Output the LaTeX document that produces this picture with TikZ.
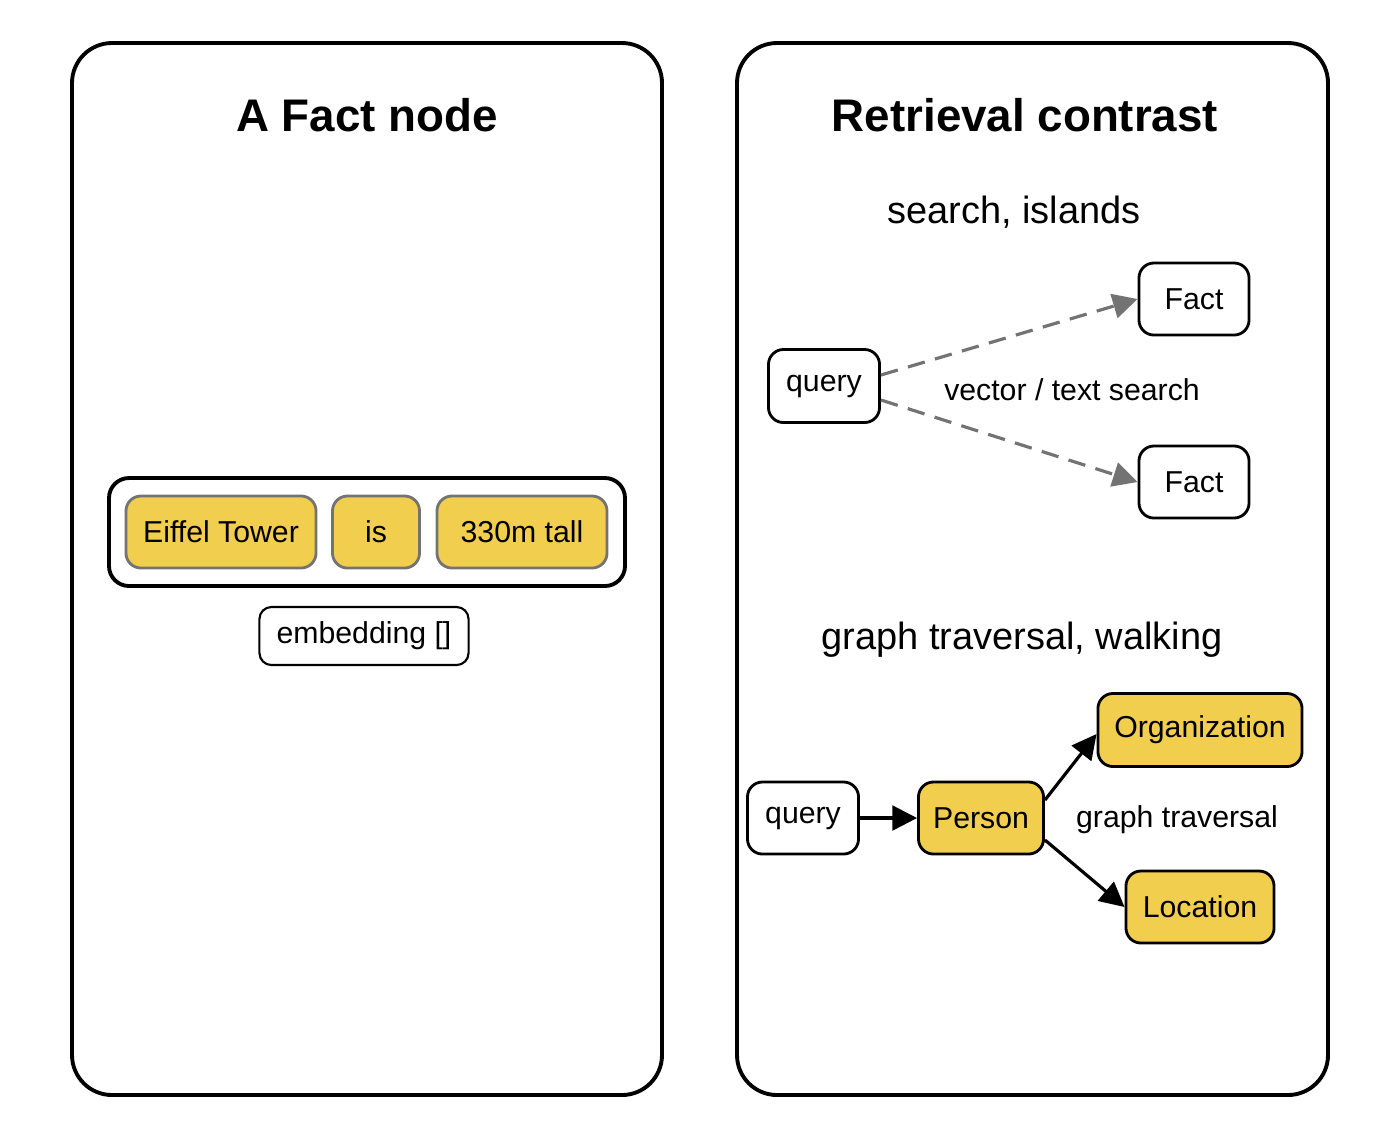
\documentclass[tikz,border=0pt]{standalone}
\usepackage{fontspec}
\setmainfont{Liberation Sans}
\usetikzlibrary{arrows.meta}
\definecolor{yel}{HTML}{F2CE4E}
\begin{document}
\begin{tikzpicture}[x=0.01cm,y=-0.01cm,
 panel/.style={draw,line width=1.1pt,rounded corners=0.4cm},
 title/.style={font=\fontsize{13pt}{15pt}\selectfont\bfseries},
 sub/.style={font=\fontsize{10.8pt}{13pt}\selectfont},
 txt/.style={font=\fontsize{8.6pt}{10pt}\selectfont},
 box/.style={draw,line width=0.8pt,rounded corners=0.15cm,fill=white,txt,inner sep=0pt,minimum height=0.72cm},
 ybox/.style={box,fill=yel},
 gbox/.style={ybox,draw=black!55},
 darr/.style={draw=black!55,line width=0.9pt,dash pattern=on 5pt off 3pt,-{Triangle[length=7pt,width=7pt]}},
 sarr/.style={line width=0.9pt,-{Triangle[length=7pt,width=7pt]}}]
\useasboundingbox (0,0) rectangle (1400,1138);
\draw[panel] (72,43) rectangle (662,1095);
\draw[panel] (737,43) rectangle (1328,1095);
\node[title] (t1) at (367,115) {A Fact node};
\node[title] (t2) at (1025,115) {Retrieval contrast};
\draw[line width=1.1pt,rounded corners=0.2cm] (109,478) rectangle (625,586);
\node[gbox,minimum width=1.9cm] (e) at (221,532) {Eiffel Tower};
\node[gbox,minimum width=0.87cm] (is) at (376,532) {is};
\node[gbox,minimum width=1.7cm] (h) at (522,532) {330m tall};
\node[box,line width=0.6pt,minimum width=2.09cm,minimum height=0.58cm,rounded corners=0.12cm] (emb) at (364,636) {embedding []};
\node[sub] (s1) at (1014,212) {search, islands};
\node[box,minimum width=1.11cm,minimum height=0.73cm] (q1) at (824,386) {query};
\node[box,minimum width=1.1cm] (f1) at (1194,299) {Fact};
\node[box,minimum width=1.1cm] (f2) at (1194,482) {Fact};
\draw[darr] (q1.east|-0,375) -- (f1.west);
\draw[darr] (q1.east|-0,400) -- (f2.west);
\node[txt] (l1) at (1072,390) {vector / text search};
\node[sub] (s2) at (1022,640) {graph traversal, walking};
\node[box,minimum width=1.11cm] (q2) at (803,818) {query};
\node[ybox,minimum width=1.25cm] (p) at (981,818) {Person};
\node[ybox,minimum width=2.04cm,minimum height=0.73cm] (o) at (1200,730) {Organization};
\node[ybox,minimum width=1.48cm] (loc) at (1200,907) {Location};
\draw[sarr] (q2) -- (p);
\draw[sarr] (p.east|-0,800) -- (o.west|-0,734);
\draw[sarr] (p.east|-0,840) -- (loc.west|-0,907);
\node[txt] (l2) at (1177,820) {graph traversal};
\end{tikzpicture}
\end{document}
